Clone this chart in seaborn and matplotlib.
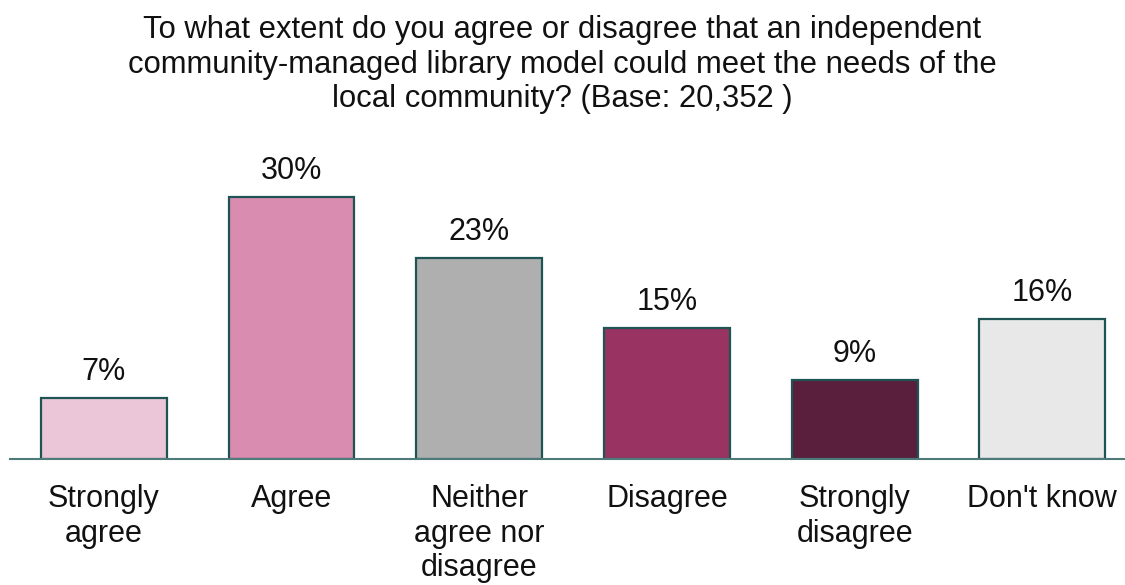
import matplotlib
matplotlib.use("Agg")
import matplotlib.pyplot as plt
import seaborn as sns
import pandas as pd

categories = ["Strongly\nagree", "Agree", "Neither\nagree nor\ndisagree",
              "Disagree", "Strongly\ndisagree", "Don't know"]
percentages = [7, 30, 23, 15, 9, 16]
bar_colors = ["#EBC6D8", "#D98BB0", "#AFAFAF", "#993462", "#5A1F3C", "#E8E8E8"]
title = ("To what extent do you agree or disagree that an independent\n"
         "community-managed library model could meet the needs of the\n"
         "local community? (Base: 20,352 )")

sns.set_theme(style="white")
plt.rcParams["font.family"] = ["Liberation Sans", "DejaVu Sans"]

df = pd.DataFrame({"response": categories, "pct": percentages})

W, H = 1125, 585
fig = plt.figure(figsize=(W / 100, H / 100), dpi=100)
ax_left, ax_right = 10, 1125
ax_bottom, ax_top = 459, 144.6
ax = fig.add_axes([ax_left / W, (H - ax_bottom) / H,
                   (ax_right - ax_left) / W, (ax_bottom - ax_top) / H])

sns.barplot(data=df, x="response", y="pct", hue="response",
            palette=bar_colors, saturation=1, legend=False, width=0.67,
            edgecolor="#1F5454", linewidth=1.6, ax=ax)

for container, val in zip(ax.containers, percentages):
    ax.bar_label(container, labels=[f"{val}%"], padding=8,
                 fontsize=22, color="#111111")

ax.set_ylim(0, 36)
ax.set_xlim(-0.5, -0.5 + (ax_right - ax_left) / 187.7)
ax.set_yticks([])
ax.set_xlabel("")
ax.set_ylabel("")
for side in ["top", "right", "left"]:
    ax.spines[side].set_visible(False)
ax.spines["bottom"].set_color("#4F7A7A")
ax.spines["bottom"].set_linewidth(1.5)
ax.tick_params(axis="x", length=0, pad=18, labelsize=22, labelcolor="#111111")
for lbl in ax.get_xticklabels():
    lbl.set_linespacing(1.2)

fig.text(0.5, 1 - 15 / H, title, ha="center", va="top", fontsize=22.3,
         color="#111111", linespacing=1.2)

fig.savefig("out.png", dpi=100)
